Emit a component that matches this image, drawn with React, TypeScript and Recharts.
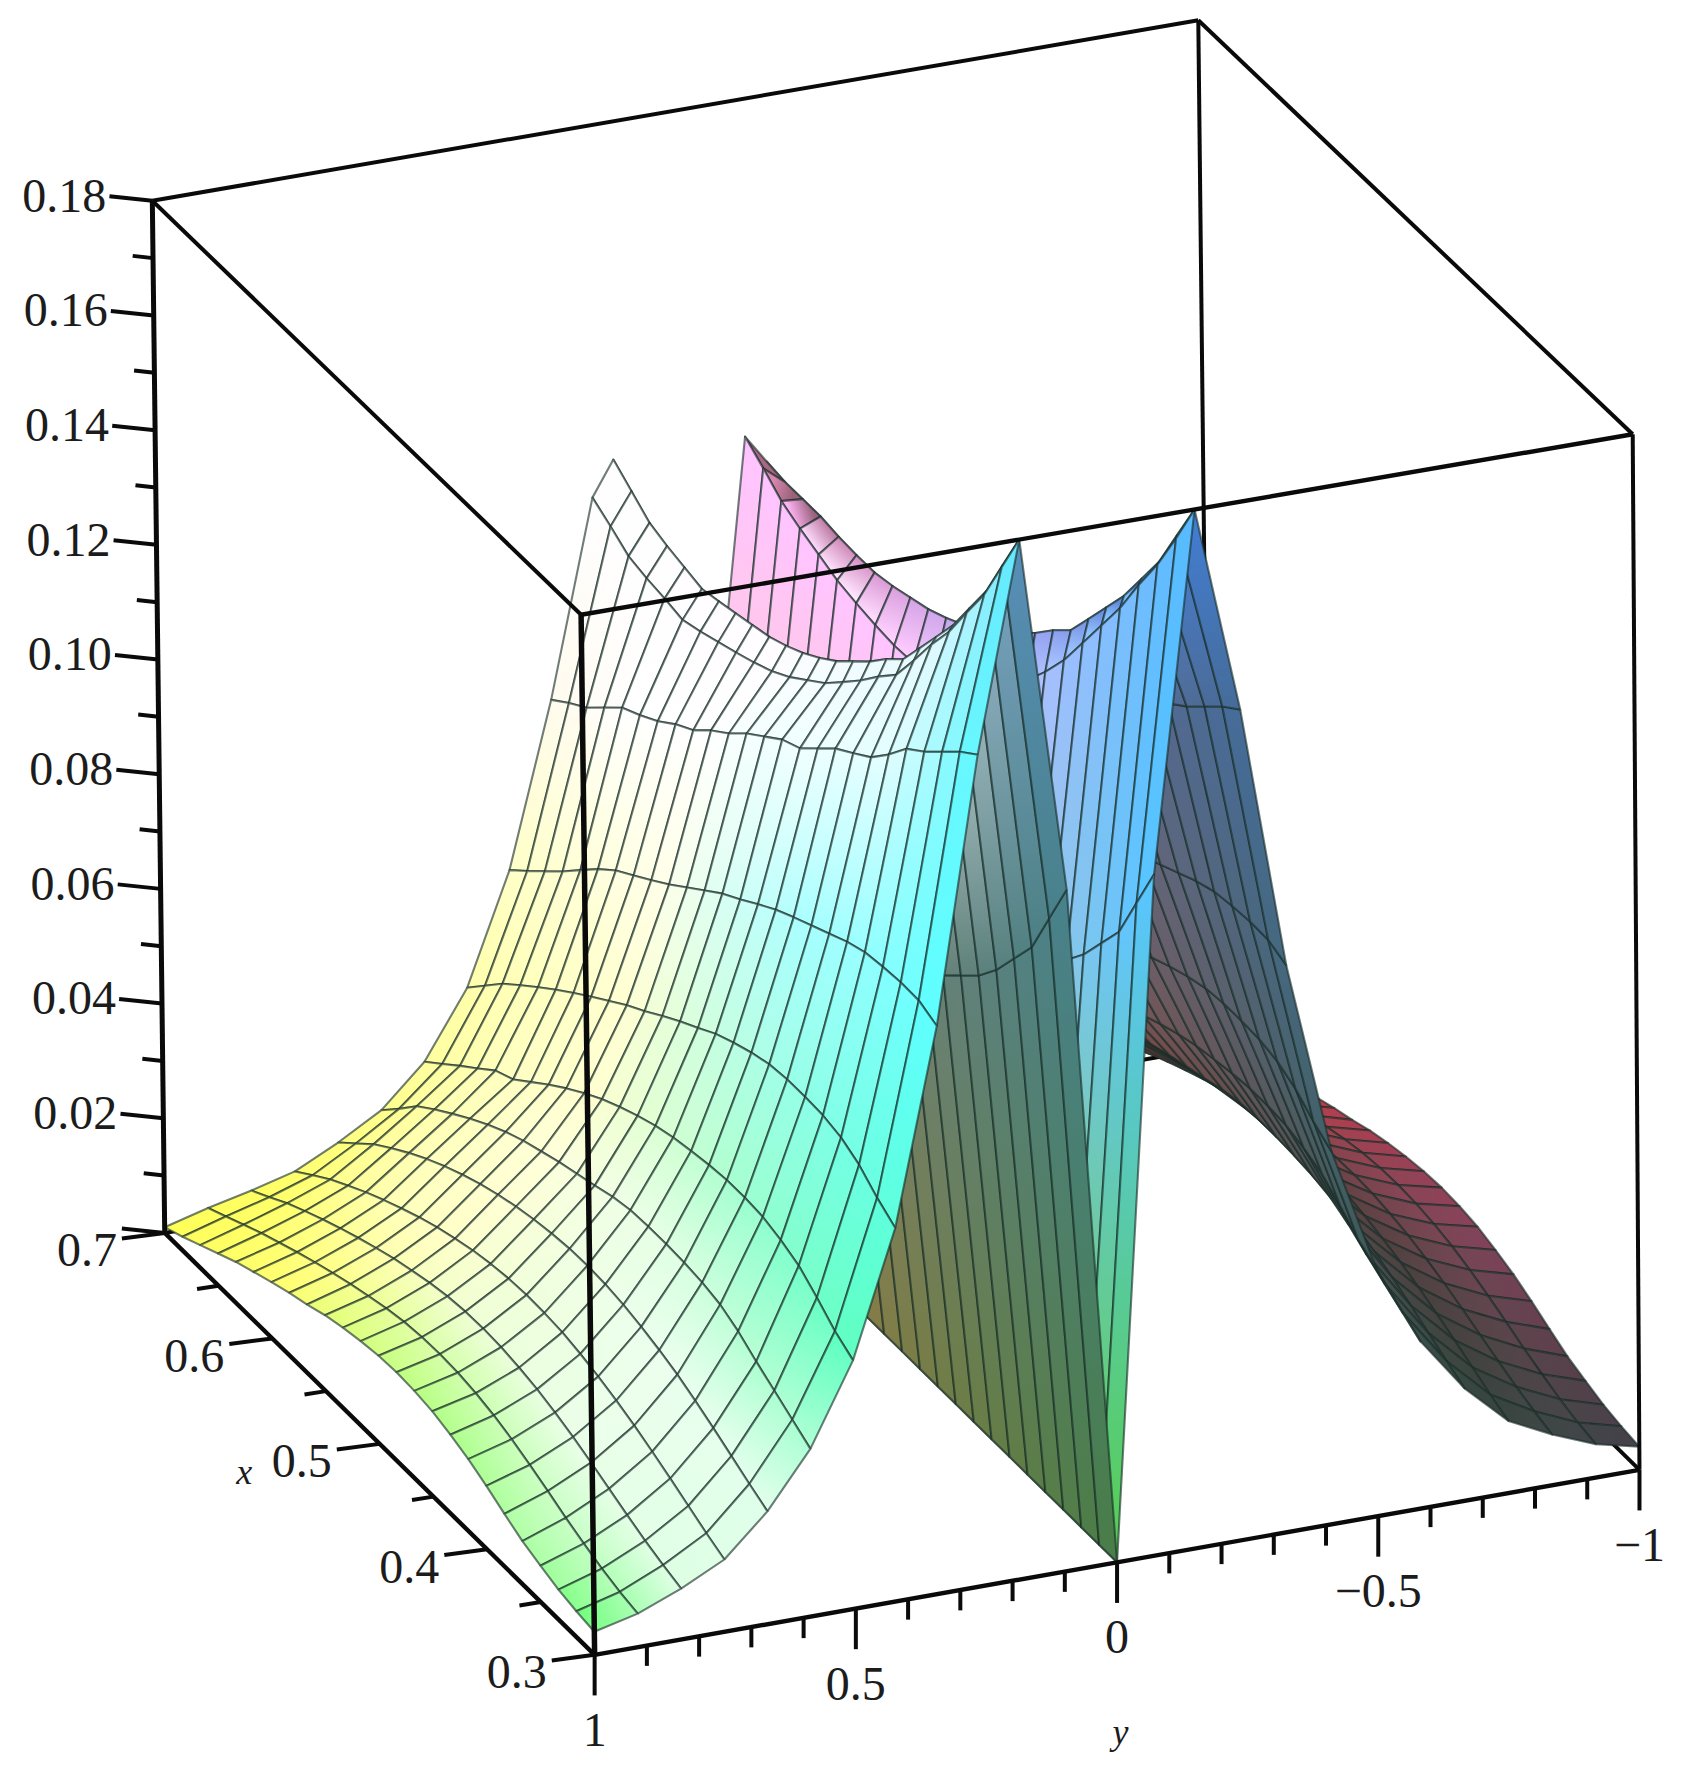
import { Scatter, ScatterChart, XAxis, YAxis } from "recharts";

// surface: one list per y column, x runs 0.3 -> 0.7 (25 rows)
const xValues = [0.3, 0.3167, 0.3333, 0.35, 0.3667, 0.3833, 0.4, 0.4167, 0.4333, 0.45, 0.4667, 0.4833, 0.5, 0.5167, 0.5333, 0.55, 0.5667, 0.5833, 0.6, 0.6167, 0.6333, 0.65, 0.6667, 0.6833, 0.7];
const ridgeY = [0.1667, 0.165, 0.163, 0.161, 0.159, 0.157, 0.155, 0.153, 0.151, 0.149, 0.147, 0.145, 0.143, 0.141, 0.139, 0.137, 0.135, 0.133, 0.131, 0.129, 0.128, 0.127, 0.126, 0.126, 0.126];

const zY100 = [0.004, 0.0045, 0.0052, 0.0063, 0.0075, 0.0092, 0.011, 0.0126, 0.0138, 0.0148, 0.0153, 0.0155, 0.0153, 0.0148, 0.0141, 0.0132, 0.012, 0.011, 0.0098, 0.0085, 0.0072, 0.0056, 0.004, 0.0024, 0.001];
const zY092 = [0.0058, 0.0065, 0.0075, 0.0088, 0.0102, 0.0118, 0.0133, 0.0147, 0.0158, 0.0166, 0.0171, 0.0173, 0.0172, 0.0168, 0.0161, 0.0152, 0.0142, 0.0131, 0.0119, 0.0106, 0.0092, 0.0078, 0.0062, 0.0046, 0.003];
const zY083 = [0.0088, 0.0098, 0.011, 0.0124, 0.0139, 0.0154, 0.0168, 0.018, 0.019, 0.0197, 0.0202, 0.0204, 0.0203, 0.0199, 0.0192, 0.0183, 0.0173, 0.0161, 0.0148, 0.0134, 0.0119, 0.0103, 0.0086, 0.0066, 0.0047];
const zY075 = [0.0125, 0.014, 0.0157, 0.0174, 0.019, 0.0205, 0.0218, 0.0229, 0.0238, 0.0245, 0.0248, 0.0249, 0.0247, 0.0242, 0.0235, 0.0225, 0.0214, 0.0201, 0.0186, 0.017, 0.0153, 0.0134, 0.0114, 0.0091, 0.0067];
const zY067 = [0.0195, 0.0212, 0.023, 0.0248, 0.0265, 0.028, 0.0292, 0.0302, 0.031, 0.0315, 0.0317, 0.0316, 0.0312, 0.0306, 0.0298, 0.0288, 0.0276, 0.0262, 0.0246, 0.0228, 0.0208, 0.0186, 0.0162, 0.0133, 0.0104];
const zY058 = [0.029, 0.031, 0.033, 0.035, 0.0372, 0.0388, 0.0396, 0.04, 0.0402, 0.0402, 0.04, 0.0393, 0.0382, 0.0372, 0.0362, 0.035, 0.0338, 0.0323, 0.0305, 0.0285, 0.0263, 0.024, 0.0215, 0.018, 0.0147];
const zY050 = [0.043, 0.045, 0.0478, 0.0503, 0.0517, 0.0527, 0.053, 0.053, 0.0526, 0.052, 0.0513, 0.0503, 0.049, 0.0475, 0.0458, 0.0438, 0.0416, 0.0392, 0.0366, 0.034, 0.0325, 0.0298, 0.0272, 0.0245, 0.0218];
const zY042 = [0.0646, 0.0668, 0.0695, 0.0712, 0.072, 0.0722, 0.0722, 0.0718, 0.0708, 0.0695, 0.068, 0.066, 0.0641, 0.062, 0.0598, 0.0578, 0.0555, 0.0532, 0.0508, 0.0483, 0.0457, 0.043, 0.0402, 0.0368, 0.0334];
const zY033 = [0.0983, 0.0997, 0.0998, 0.0995, 0.099, 0.0978, 0.0962, 0.0946, 0.093, 0.0913, 0.0892, 0.087, 0.085, 0.0825, 0.08, 0.0775, 0.0752, 0.073, 0.0708, 0.068, 0.0648, 0.0615, 0.0585, 0.0555, 0.0526];
const zY025 = [0.144, 0.1415, 0.1385, 0.1355, 0.133, 0.129, 0.1255, 0.1232, 0.121, 0.118, 0.115, 0.1135, 0.111, 0.1085, 0.1055, 0.103, 0.1, 0.098, 0.0955, 0.0935, 0.0918, 0.0888, 0.0857, 0.0835, 0.081];
const zY017 = [0.18, 0.1722, 0.1645, 0.1583, 0.152, 0.1468, 0.141, 0.1355, 0.1322, 0.1285, 0.1252, 0.122, 0.1195, 0.117, 0.115, 0.1135, 0.1122, 0.111, 0.1098, 0.1088, 0.1095, 0.11, 0.1108, 0.113, 0.115];
const zRidge = [0.18, 0.1725, 0.165, 0.159, 0.153, 0.148, 0.143, 0.138, 0.135, 0.1315, 0.1285, 0.1255, 0.123, 0.1208, 0.119, 0.1175, 0.1165, 0.1155, 0.1145, 0.1136, 0.1143, 0.115, 0.116, 0.1185, 0.121];
const zY008 = [0.118, 0.11, 0.102, 0.097, 0.092, 0.088, 0.085, 0.082, 0.08, 0.079, 0.078, 0.077, 0.076, 0.076, 0.076, 0.076, 0.076, 0.077, 0.077, 0.078, 0.079, 0.08, 0.082, 0.084, 0.086];
const zY000 = [0, 0, 0, 0, 0, 0, 0, 0, 0, 0, 0, 0, 0, 0, 0, 0, 0, 0, 0, 0, 0, 0, 0, 0, 0];
// the far ridge reads a little different: the fold sits below the crest line
const zFold = [0.18, 0.172, 0.1645, 0.158, 0.151, 0.145, 0.139, 0.133, 0.128, 0.1235, 0.119, 0.1155, 0.1125, 0.1105, 0.1092, 0.1086, 0.1086, 0.1092, 0.11, 0.111, 0.1125, 0.114, 0.1158, 0.1185, 0.121];
const zCrest = [0.18, 0.1725, 0.165, 0.159, 0.153, 0.148, 0.143, 0.138, 0.135, 0.1315, 0.1285, 0.1255, 0.123, 0.1208, 0.119, 0.1175, 0.1165, 0.1155, 0.1148, 0.1148, 0.115, 0.1155, 0.1155, 0.1155, 0.116];

// y columns left to right, the two ridge columns move with x
const yColumns = [1, 0.9167, 0.8333, 0.75, 0.6667, 0.5833, 0.5, 0.4167, 0.3333, 0.25, 0.1667, "ridge", 0.0833, 0, -0.0833, "-ridge", -0.1667, -0.25, -0.3333, -0.4167, -0.5, -0.5833, -0.6667, -0.75, -0.8333, -0.9167, -1];
const zColumns = [zY100, zY092, zY083, zY075, zY067, zY058, zY050, zY042, zY033, zY025, zY017, zRidge, zY008, zY000, zY008, zFold, zCrest, zY025, zY033, zY042, zY050, zY058, zY067, zY075, zY083, zY092, zY100];
const creaseColumns = [11, 13, 15];

const zMajor = [0, 0.02, 0.04, 0.06, 0.08, 0.1, 0.12, 0.14, 0.16, 0.18];
const zMinor = [0.01, 0.03, 0.05, 0.07, 0.09, 0.11, 0.13, 0.15, 0.17];
const zLabels = ["0.02", "0.04", "0.06", "0.08", "0.10", "0.12", "0.14", "0.16", "0.18"];
const xMajor = [0.3, 0.4, 0.5, 0.6, 0.7];
const xMinor = [0.35, 0.45, 0.55, 0.65];
const xLabels = ["0.3", "0.4", "0.5", "0.6", "0.7"];
const yMajor = [1, 0.5, 0, -0.5, -1];
const yMinor = [0.9, 0.8, 0.7, 0.6, 0.4, 0.3, 0.2, 0.1, -0.1, -0.2, -0.3, -0.4, -0.6, -0.7, -0.8, -0.9];
const yLabels = ["1", "0.5", "0", "\u22120.5", "\u22121"];

const W = 1688;
const H = 1771;
const PLOT_W = 1496;
const PLOT_H = 1570;
const FONT = "'Liberation Serif', serif";
const GRID = "rgba(25,45,40,0.62)";

type P = { px: number; py: number };

const lerp = (a: number, b: number, f: number) => a + (b - a) * f;
const clamp = (v: number) => Math.min(1, Math.max(0, v));

// box corners on the picture, [s][t][w] with s: x 0.3->0.7, t: y 1->-1, w: z 0->0.18
const boxX = [[[527, 515], [1453, 1447]], [[146, 135], [1072, 1062]]];
const boxY = [[[1467, 545], [1303, 385]], [[1093, 178], [929, 18]]];

function tri(c: number[][][], s: number, t: number, w: number) {
  const a = lerp(lerp(c[0][0][0], c[0][0][1], w), lerp(c[0][1][0], c[0][1][1], w), t);
  const b = lerp(lerp(c[1][0][0], c[1][0][1], w), lerp(c[1][1][0], c[1][1][1], w), t);
  return lerp(a, b, s);
}
const toS = (x: number) => (x - 0.3) / 0.4;
const toT = (y: number) => (1 - y) / 2;
const toW = (z: number) => z / 0.18;
function project(x: number, y: number, z: number): P {
  const s = toS(x), t = toT(y), w = toW(z);
  return { px: tri(boxX, s, t, w), py: tri(boxY, s, t, w) };
}

const columnY = (col: number, row: number) => {
  const v = yColumns[col];
  if (v === "ridge") return ridgeY[row];
  if (v === "-ridge") return -ridgeY[row];
  return v as number;
};

// shading: colour from x, y, z like the original, with a soft light on top
const LIGHT = [-0.2, -0.75, 0.6];
const HALF = [-0.05, -0.62, 0.78];
const dot = (a: number[], b: number[]) => a[0] * b[0] + a[1] * b[1] + a[2] * b[2];
const unitVec = (v: number[]) => {
  const len = Math.hypot(v[0], v[1], v[2]) || 1;
  return v.map((a) => a / len);
};

function shade(pos: number[], n: number[]) {
  const ndl = Math.max(0, dot(n, LIGHT));
  const base = [pos[0], 1 - pos[1], lerp(pos[2], Math.pow(pos[2], 0.7), clamp(ndl / 0.8))];
  const spec = 0.8 * clamp((dot(n, HALF) - 0.9) / 0.07) * clamp(1.25 - pos[0]);
  const crest = pos[1] < 0.45 ? 0.75 * clamp((pos[2] - 0.52) / 0.12) * clamp(pos[0] / 0.2) : 0;
  const wash = Math.max(spec, crest);
  const back = n[1] > 0 ? 0.12 * (1 - n[2]) : 0;
  const rgb = base.map((b) => {
    const lit = clamp(b * (0.42 + 0.7 * ndl) + 0.17 + 0.2 * ndl + back);
    return Math.round(255 * lerp(lit, 1, wash));
  });
  return `rgb(${rgb[0]},${rgb[1]},${rgb[2]})`;
}

const unitAt = (r: number, c: number) => [toS(xValues[r]), toT(columnY(c, r)), toW(zColumns[c][r])];

function quadNormal(r: number, c: number) {
  const a = unitAt(r, c), b = unitAt(r + 1, c), d = unitAt(r + 1, c + 1), e = unitAt(r, c + 1);
  const d1 = [d[0] - a[0], d[1] - a[1], d[2] - a[2]];
  const d2 = [e[0] - b[0], e[1] - b[1], e[2] - b[2]];
  const n = unitVec([d1[1] * d2[2] - d1[2] * d2[1], d1[2] * d2[0] - d1[0] * d2[2], d1[0] * d2[1] - d1[1] * d2[0]]);
  return n[2] < 0 ? n.map((v) => -v) : n;
}

type Quad = { points: P[]; id: string; from: string; to: string; a: P; b: P };

function buildQuads() {
  const rows = xValues.length - 1;
  const cols = yColumns.length - 1;
  const normals: number[][][] = [];
  for (let r = 0; r < rows; r++) {
    normals.push([]);
    for (let c = 0; c < cols; c++) normals[r].push(quadNormal(r, c));
  }
  // normal on one y edge of a cell, shared with the next cell unless that edge is a crease
  const edgeNormal = (r: number, c: number, edge: number) => {
    const other = edge === c ? c - 1 : c + 1;
    const sum = [0, 0, 0];
    for (let i = Math.max(0, r - 1); i <= Math.min(rows - 1, r + 1); i++) {
      const own = normals[i][c];
      const next = other >= 0 && other < cols && !creaseColumns.includes(edge) ? normals[i][other] : own;
      for (let a = 0; a < 3; a++) sum[a] += own[a] + next[a];
    }
    return unitVec(sum);
  };
  const quads: Quad[] = [];
  // far cells first: a height field seen from this side paints correctly in grid order
  for (let r = rows - 1; r >= 0; r--) {
    for (let c = cols - 1; c >= 0; c--) {
      const cells = [[r, c], [r + 1, c], [r + 1, c + 1], [r, c + 1]];
      const points = cells.map(([i, j]) => project(xValues[i], columnY(j, i), zColumns[j][i]));
      const mid = (u: number[], v: number[]) => u.map((a, i) => (a + v[i]) / 2);
      const left = mid(unitAt(r, c), unitAt(r + 1, c));
      const right = mid(unitAt(r, c + 1), unitAt(r + 1, c + 1));
      quads.push({
        points: [...points, points[0]],
        id: `cell-${r}-${c}`,
        from: shade(left, edgeNormal(r, c, c)),
        to: shade(right, edgeNormal(r, c, c + 1)),
        a: { px: (points[0].px + points[1].px) / 2, py: (points[0].py + points[1].py) / 2 },
        b: { px: (points[2].px + points[3].px) / 2, py: (points[2].py + points[3].py) / 2 },
      });
    }
  }
  return quads;
}

const noDot = () => <g />;

function seg(key: string, a: P, b: P, width: number) {
  return (
    <Scatter
      key={key}
      data={[a, b]}
      shape={noDot}
      line={{ stroke: "#0a0a0a", strokeWidth: width, fill: "none" }}
      lineType="joint"
      isAnimationActive={false}
    />
  );
}

const off = (p: P, dx: number, dy: number): P => ({ px: p.px + dx, py: p.py + dy });

function TextMark(props: any) {
  const { cx, cy, payload } = props;
  return (
    <text
      x={cx}
      y={cy}
      textAnchor="middle"
      dominantBaseline="central"
      fontFamily={FONT}
      fontSize={payload.size}
      fontStyle={payload.italic ? "italic" : "normal"}
      fill="#1c1c1c"
    >
      {payload.text}
    </text>
  );
}

export default function App() {
  const quads = buildQuads();
  const zAt = (z: number) => project(0.7, 1, z);
  const xAt = (x: number) => project(x, 1, 0);
  const yAt = (y: number) => project(0.3, y, 0);
  const kx = W / PLOT_W;
  const ky = H / PLOT_H;

  const labels = [
    ...zLabels.map((text) => ({ ...off(zAt(Number(text)), -78, -5), text, size: 48 })),
    ...xLabels.map((text) => ({ ...off(xAt(Number(text)), -69, 15), text, size: 48 })),
    ...yLabels.map((text, i) => ({ ...off(yAt(yMajor[i]), 0, 66), text, size: 48 })),
    { ...off(xAt(0.5), -120, 25), text: "x", size: 36, italic: true },
    { ...off(yAt(0), 3, 150), text: "y", size: 36, italic: true },
  ];

  return (
    <div style={{ position: "absolute", left: 0, top: 0, width: W, height: H, background: "#fff" }}>
      <ScatterChart width={W} height={H} margin={{ top: 0, right: 0, bottom: 0, left: 0 }}>
        <defs>
          {quads.map((q) => (
            <linearGradient
              key={q.id}
              id={q.id}
              gradientUnits="userSpaceOnUse"
              x1={q.a.px * kx}
              y1={q.a.py * ky}
              x2={q.b.px * kx}
              y2={q.b.py * ky}
            >
              <stop offset="0" stopColor={q.from} />
              <stop offset="1" stopColor={q.to} />
            </linearGradient>
          ))}
        </defs>
        <XAxis hide type="number" dataKey="px" domain={[0, PLOT_W]} allowDataOverflow />
        <YAxis hide type="number" dataKey="py" domain={[0, PLOT_H]} reversed allowDataOverflow />

        {/* back of the box goes under the surface */}
        {seg("b1", project(0.7, 1, 0.18), project(0.7, -1, 0.18), 4)}
        {seg("b2", project(0.7, -1, 0.18), project(0.3, -1, 0.18), 4)}
        {seg("b3", project(0.7, -1, 0.18), project(0.7, -1, 0), 4)}
        {seg("b4", project(0.7, 1, 0), project(0.7, -1, 0), 4)}
        {seg("b5", project(0.7, -1, 0), project(0.3, -1, 0), 4)}

        {quads.map((q) => (
          <Scatter
            key={q.id}
            data={q.points}
            shape={noDot}
            line={{ stroke: GRID, strokeWidth: 2.1, fill: `url(#${q.id})`, strokeLinejoin: "round" }}
            lineType="joint"
            isAnimationActive={false}
          />
        ))}

        {/* front of the box */}
        {seg("f1", project(0.7, 1, 0.18), project(0.3, 1, 0.18), 4)}
        {seg("f2", project(0.3, 1, 0.18), project(0.3, -1, 0.18), 4.4)}
        {seg("f3", project(0.3, 1, 0.18), project(0.3, 1, 0), 5.5)}
        {seg("f4", project(0.7, 1, 0.18), project(0.7, 1, 0), 5)}
        {seg("f5", project(0.3, -1, 0.18), project(0.3, -1, 0), 4)}
        {seg("f6", project(0.7, 1, 0), project(0.3, 1, 0), 4.4)}
        {seg("f7", project(0.3, 1, 0), project(0.3, -1, 0), 4.4)}

        {zMajor.map((z) => seg(`zM${z}`, zAt(z), off(zAt(z), -38, -4), 4))}
        {zMinor.map((z) => seg(`zm${z}`, zAt(z), off(zAt(z), -18, -2), 4))}
        {xMajor.map((x) => seg(`xM${x}`, xAt(x), off(xAt(x), -38, 5), 4))}
        {xMinor.map((x) => seg(`xm${x}`, xAt(x), off(xAt(x), -19, 3), 4))}
        {yMajor.map((y) => seg(`yM${y}`, yAt(y), off(yAt(y), 0, 36), 4))}
        {yMinor.map((y) => seg(`ym${y}`, yAt(y), off(yAt(y), 0, 18), 4))}

        <Scatter data={labels} shape={TextMark} isAnimationActive={false} />
      </ScatterChart>
    </div>
  );
}
